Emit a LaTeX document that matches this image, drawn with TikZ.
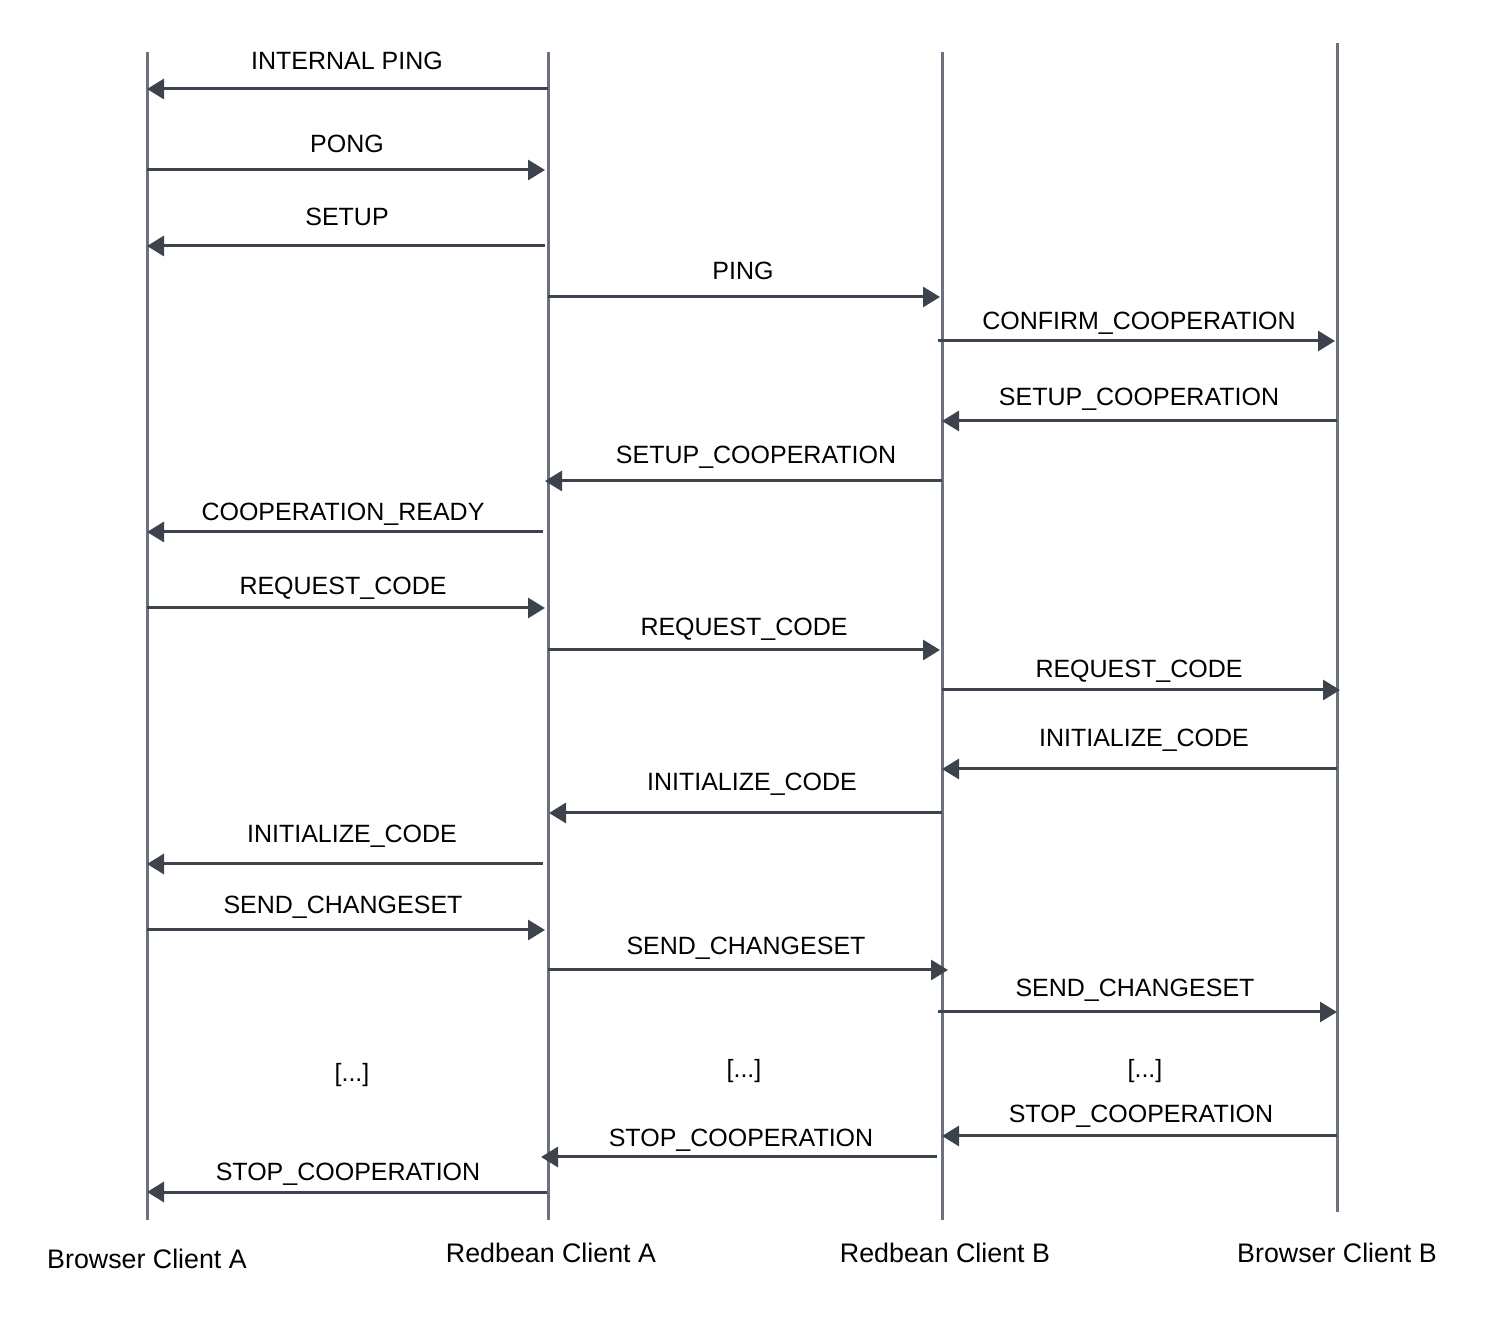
\documentclass[tikz,border=0pt]{standalone}
\usepackage{fontspec}
\setmainfont{Liberation Sans}
\usetikzlibrary{arrows.meta}
\definecolor{lifegray}{HTML}{6B717D}
\definecolor{msgdark}{HTML}{3D434D}
\tikzset{
    lifeline/.style={draw=lifegray, line width=1.5pt},
    message/.style={draw=msgdark, line width=1.5pt, -{Triangle[length=8.5pt,width=10pt]}},
    msglabel/.style={anchor=base, inner sep=0pt, font=\fontsize{12.5}{15}\selectfont},
    clientlabel/.style={msglabel, font=\fontsize{13.4}{16}\selectfont},
}

\begin{document}
\begin{tikzpicture}[x=0.5pt,y=-0.5pt]
\useasboundingbox (0,0) rectangle (1496,1320);

% lifelines and client names
\foreach \name/\x/\top/\bot/\lx/\ly/\txt in {
    bca/147/52/1220/147/1268/Browser Client A,
    rca/548/52/1220/551/1262/Redbean Client A,
    rcb/942/52/1220/945/1262/Redbean Client B,
    bcb/1337/43/1212/1337/1262/Browser Client B}
{
    \coordinate (\name-top) at (\x,\top);
    \coordinate (\name-bot) at (\x,\bot);
    \draw[lifeline] (\name-top) -- (\name-bot);
    \node[clientlabel] (\name) at (\lx,\ly) {\txt};
}

% messages: line y / start x / end x / label x / label baseline / text
\foreach \ys/\xs/\xe/\lx/\lb/\txt [count=\i] in {
    89/548/147/347/70/INTERNAL PING,
    170/147/545/347/153/PONG,
    246/545/147/347/226/SETUP,
    297/548/940/743/280/PING,
    341/938/1335/1139/330/CONFIRM\_COOPERATION,
    421/1337/942/1139/406/SETUP\_COOPERATION,
    481/942/545/756/464/SETUP\_COOPERATION,
    532/543/147/343/521/COOPERATION\_READY,
    608/147/545/343/595/REQUEST\_CODE,
    650/548/940/744/636/REQUEST\_CODE,
    690/942/1340/1139/678/REQUEST\_CODE,
    769/1337/942/1144/747/INITIALIZE\_CODE,
    813/942/549/752/791/INITIALIZE\_CODE,
    864/543/147/352/843/INITIALIZE\_CODE,
    930/147/545/343/914/SEND\_CHANGESET,
    970/548/948/746/955/SEND\_CHANGESET,
    1012/938/1337/1135/997/SEND\_CHANGESET,
    1136/1337/942/1141/1123/STOP\_COOPERATION,
    1157/937/541/741/1146/STOP\_COOPERATION,
    1192/547/147/348/1181/STOP\_COOPERATION}
{
    \coordinate (m\i-s) at (\xs,\ys);
    \coordinate (m\i-e) at (\xe,\ys);
    \node[msglabel] (m\i) at (\lx,\lb) {\txt};
    \draw[message] (m\i-s) -- (m\i-e);
}

% elided part
\node[msglabel] (gap1) at (352,1082) {[...]};
\node[msglabel] (gap2) at (744,1078) {[...]};
\node[msglabel] (gap3) at (1145,1078) {[...]};
\end{tikzpicture}
\end{document}
